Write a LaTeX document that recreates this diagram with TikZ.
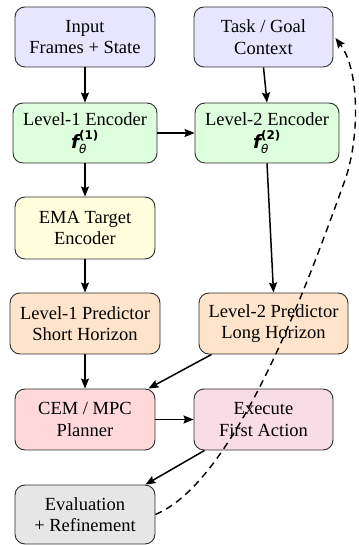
\documentclass[tikz,border=0pt]{standalone}
\usepackage{fontspec}
\setmainfont{Liberation Serif}
\newfontfamily\dvfont{DejaVu Sans}
\usetikzlibrary{arrows.meta}
\definecolor{clav}{RGB}{230,230,255}
\definecolor{cgreen}{RGB}{221,255,221}
\definecolor{cyel}{RGB}{255,255,221}
\definecolor{cpeach}{RGB}{255,228,204}
\definecolor{cred}{RGB}{255,217,217}
\definecolor{cpink}{RGB}{248,220,230}
\definecolor{cgray}{RGB}{230,230,230}
\definecolor{cborder}{RGB}{45,45,45}
\newcommand{\fenc}[1]{$\hbox{\dvfont\bfseries\itshape f}^{\hbox{\dvfont\bfseries\fontsize{12}{12}\selectfont(#1)}}_{\hbox{\dvfont\itshape\fontsize{12}{12}\selectfont θ}}$}
\begin{document}
\begin{tikzpicture}[x=1pt,y=1pt,
  box/.style={draw=cborder, line width=0.9pt, rounded corners=10pt, align=center,
    inner sep=0pt, font=\fontsize{18.5}{21.5}\selectfont},
  arr/.style={line width=1.5pt, -{Stealth[length=10pt,width=8pt,inset=1.5pt]}},
  darr/.style={line width=1.4pt, dash pattern=on 7pt off 5pt, -{Stealth[length=10pt,width=8pt,inset=1.5pt]}}
]
\useasboundingbox (0,0) rectangle (358,545);
\node[box, fill=clav, minimum width=140pt, minimum height=60pt] (inp) at (85,508) {Input\\Frames + State};
\node[box, fill=clav, minimum width=139pt, minimum height=60pt] (task) at (263.5,508) {Task / Goal\\Context};
\node[box, fill=cgreen, minimum width=144pt, minimum height=60pt] (enc1) at (85,412) {Level-1 Encoder\\[2pt]\fenc{1}};
\node[box, fill=cgreen, minimum width=144pt, minimum height=60pt] (enc2) at (267,412) {Level-2 Encoder\\[2pt]\fenc{2}};
\node[box, fill=cyel, minimum width=140pt, minimum height=62pt] (ema) at (85,317) {EMA Target\\Encoder};
\node[box, fill=cpeach, minimum width=150pt, minimum height=61pt] (pred1) at (85,221.5) {Level-1 Predictor\\Short Horizon};
\node[box, fill=cpeach, minimum width=149pt, minimum height=61pt] (pred2) at (273.5,221.5) {Level-2 Predictor\\Long Horizon};
\node[box, fill=cred, minimum width=140pt, minimum height=61pt] (cem) at (85,125.5) {CEM / MPC\\Planner};
\node[box, fill=cpink, minimum width=139pt, minimum height=61pt] (exe) at (263.5,125.5) {Execute\\First Action};
\node[box, fill=cgray, minimum width=140pt, minimum height=59pt] (eval) at (85,30.5) {Evaluation\\+ Refinement};

\draw[arr] (inp.south) -- (enc1.north);
\draw[arr] (task.south) -- (enc2.north);
\draw[arr] (enc1.east) -- (enc2.west);
\draw[arr] (enc1.south) -- (ema.north);
\draw[arr] (ema.south) -- (pred1.north);
\draw[arr] (pred1.south) -- (cem.north);
\draw[arr] (enc2.south) -- (pred2.north);
\draw[arr] ([xshift=13pt]pred2.south west) -- ([xshift=-7pt]cem.north east);
\draw[arr] (cem.east) -- (exe.west);
\draw[arr] ([xshift=11pt]exe.south west) -- ([xshift=-10pt]eval.north east);

\coordinate (mid) at (345,365);
\coordinate (tip) at ([shift={(2pt,-1pt)}]task.east);
\draw[darr] (eval.east) .. controls (238,65) and (311,271) .. (mid)
  .. controls (358.6,402.6) and (361,473) .. (tip);
\end{tikzpicture}
\end{document}
